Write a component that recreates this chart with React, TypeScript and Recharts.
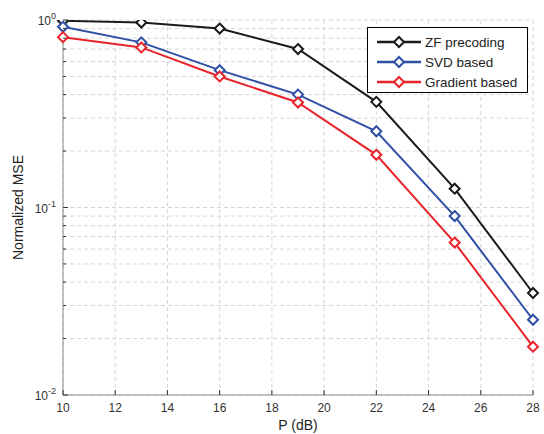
import React from 'react';
import { LineChart, Line, XAxis, YAxis, CartesianGrid, Legend } from 'recharts';

const pValues = [10, 13, 16, 19, 22, 25, 28];
const zfValues = [0.99, 0.97, 0.9, 0.7, 0.366, 0.126, 0.035];
const svdValues = [0.92, 0.76, 0.54, 0.4, 0.255, 0.09, 0.0252];
const gradValues = [0.81, 0.714, 0.5, 0.363, 0.191, 0.065, 0.0181];

const xTicks = [10, 12, 14, 16, 18, 20, 22, 24, 26, 28];
const yTicks = [
  0.01, 0.02, 0.03, 0.04, 0.05, 0.06, 0.07, 0.08, 0.09,
  0.1, 0.2, 0.3, 0.4, 0.5, 0.6, 0.7, 0.8, 0.9, 1,
];

const series = [
  { key: 'zf', name: 'ZF precoding', color: '#1a1a1a' },
  { key: 'svd', name: 'SVD based', color: '#3050a6' },
  { key: 'grad', name: 'Gradient based', color: '#e8242b' },
];

const data = pValues.map((p, i) => ({
  p,
  zf: zfValues[i],
  svd: svdValues[i],
  grad: gradValues[i],
}));

const FONT = '"Liberation Sans", Arial, sans-serif';
const AXIS_GRAY = '#8a8a8a';

const isMajor = (v: number) => {
  const l = Math.log10(v);
  return Math.abs(l - Math.round(l)) < 1e-6;
};

const diamond = (cx: number, cy: number, r: number) =>
  `M${cx} ${cy - r}L${cx + r} ${cy}L${cx} ${cy + r}L${cx - r} ${cy}Z`;

const makeDot = (color: string) => (props: any) => {
  const { cx, cy, index } = props;
  if (cx == null || cy == null) return null;
  return <path key={index} d={diamond(cx, cy, 5)} fill="#fff" stroke={color} strokeWidth={2} />;
};

const BottomTick = (props: any) => {
  const { x, y, payload } = props;
  return (
    <g>
      <line x1={x} y1={y} x2={x} y2={y - 5} stroke="#333" />
      <text x={x} y={y + 17} textAnchor="middle" fontSize={12} fill="#333" fontFamily={FONT}>
        {payload.value}
      </text>
    </g>
  );
};

const TopTick = (props: any) => {
  const { x, y } = props;
  return <line x1={x} y1={y} x2={x} y2={y + 5} stroke="#333" />;
};

const LeftTick = (props: any) => {
  const { x, y, payload } = props;
  const v = payload.value as number;
  const major = isMajor(v);
  return (
    <g>
      <line x1={x} y1={y} x2={x + (major ? 5 : 3)} y2={y} stroke="#333" />
      {major && (
        <text x={x - 7} y={y + 5} textAnchor="end" fontSize={12} fill="#333" fontFamily={FONT}>
          <tspan>10</tspan>
          <tspan dy={-6} fontSize={9}>{Math.round(Math.log10(v))}</tspan>
        </text>
      )}
    </g>
  );
};

const RightTick = (props: any) => {
  const { x, y, payload } = props;
  const major = isMajor(payload.value);
  return <line x1={x} y1={y} x2={x - (major ? 5 : 3)} y2={y} stroke="#333" />;
};

const YLabel = (props: any) => {
  const { viewBox } = props;
  const cx = viewBox.x + 18;
  const cy = viewBox.y + viewBox.height / 2;
  return (
    <text x={cx} y={cy} transform={`rotate(-90 ${cx} ${cy})`} textAnchor="middle" dominantBaseline="central" fontSize={14} fill="#222" fontFamily={FONT}>
      Normalized MSE
    </text>
  );
};

const XLabel = (props: any) => {
  const { viewBox } = props;
  return (
    <text x={viewBox.x + viewBox.width / 2} y={viewBox.y + 35} textAnchor="middle" fontSize={14} fill="#222" fontFamily={FONT}>
      P (dB)
    </text>
  );
};

const LegendBox = () => (
  <svg width={161} height={66} style={{ display: 'block' }}>
    <rect x={0.5} y={0.5} width={160} height={65} fill="#fff" stroke="#000" />
    {series.map((s, i) => {
      const y = 15 + i * 20;
      return (
        <g key={s.key}>
          <line x1={10} y1={y} x2={54} y2={y} stroke={s.color} strokeWidth={2.5} />
          <path d={diamond(32, y, 5)} fill="#fff" stroke={s.color} strokeWidth={2} />
          <text x={58} y={y + 5} fontSize={13.5} fill="#222" fontFamily={FONT}>
            {s.name}
          </text>
        </g>
      );
    })}
  </svg>
);

export default function App() {
  return (
    <div style={{ position: 'absolute', left: 0, top: 0, width: 544, height: 434, background: '#fff' }}>
      <LineChart width={544} height={434} data={data} margin={{ top: 20, right: 11, left: 0, bottom: 0 }}>
        <CartesianGrid stroke="#d6d6d6" strokeDasharray="4 3" />
        <XAxis
          dataKey="p"
          type="number"
          domain={[10, 28]}
          ticks={xTicks}
          height={39}
          tickLine={false}
          tickSize={0}
          tickMargin={0}
          tick={<BottomTick />}
          stroke={AXIS_GRAY}
          interval={0}
          label={<XLabel />}
        />
        <XAxis
          xAxisId="top"
          orientation="top"
          dataKey="p"
          type="number"
          domain={[10, 28]}
          ticks={xTicks}
          height={0}
          tickLine={false}
          tickSize={0}
          tickMargin={0}
          tick={<TopTick />}
          stroke={AXIS_GRAY}
          interval={0}
        />
        <YAxis
          scale="log"
          domain={[0.01, 1]}
          ticks={yTicks}
          width={63}
          tickLine={false}
          tickSize={0}
          tickMargin={0}
          tick={<LeftTick />}
          stroke={AXIS_GRAY}
          interval={0}
          allowDataOverflow
          label={<YLabel />}
        />
        <YAxis
          yAxisId="right"
          orientation="right"
          scale="log"
          domain={[0.01, 1]}
          ticks={yTicks}
          width={0}
          tickLine={false}
          tickSize={0}
          tickMargin={0}
          tick={<RightTick />}
          stroke={AXIS_GRAY}
          interval={0}
          allowDataOverflow
        />
        <Legend
          layout="vertical"
          align="center"
          verticalAlign="middle"
          content={<LegendBox />}
          wrapperStyle={{ left: 367, top: 27, width: 161, height: 66 }}
        />
        {series.map((s) => (
          <Line
            key={s.key}
            dataKey={s.key}
            name={s.name}
            stroke={s.color}
            strokeWidth={2}
            dot={makeDot(s.color)}
            activeDot={false}
            isAnimationActive={false}
          />
        ))}
      </LineChart>
    </div>
  );
}
